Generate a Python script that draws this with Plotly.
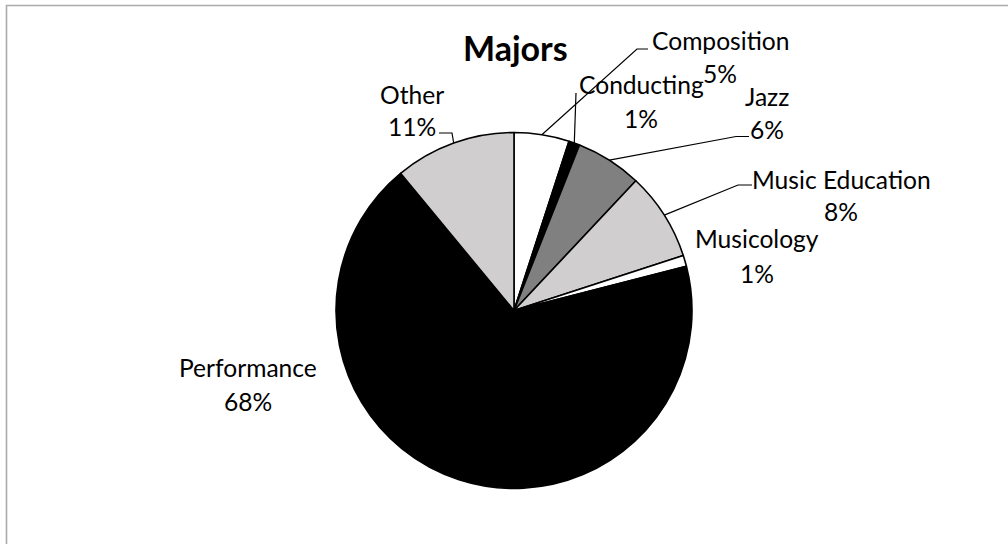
import math
import plotly.graph_objects as go

# Share of students by major (percent)
majors = ["Composition", "Conducting", "Jazz", "Music Education",
          "Musicology", "Performance", "Other"]
shares = [5, 1, 6, 8, 1, 68, 11]
slice_colors = ["#ffffff", "#000000", "#808080", "#d0cece",
                "#ffffff", "#000000", "#d0cece"]

W, H = 1008, 544
CX, CY, R = 514, 310.5, 178  # pie centre and radius in pixels

FONT = "Lato, Carlito, Calibri, sans-serif"
LABEL_SIZE = 24.6
TITLE_SIZE = 34


def px(x):
    return x / W


def py(y):
    return 1 - y / H


# label placement: centre x, name line y, percent line y (pixels)
label_pos = {
    "Composition": (720, 41, 73.5),
    "Conducting": (641, 84.5, 118),
    "Jazz": (767, 96.5, 129.5),
    "Music Education": (841, 179, 212),
    "Musicology": (757, 238, 273),
    "Performance": (248, 367.5, 401),
    "Other": (412, 94, 126),
}
# leader line bends (pixels), starting from the slice's outer arc midpoint
leader_bends = {
    "Composition": [(637, 49), (648, 49)],
    "Conducting": [(576, 93)],
    "Jazz": [(736, 136.5), (749, 136.5)],
    "Music Education": [(738, 185), (752, 185)],
    "Other": [(452, 133), (439, 133)],
}

fig = go.Figure(go.Pie(
    labels=majors,
    values=shares,
    sort=False,
    direction="clockwise",
    rotation=0,
    marker=dict(colors=slice_colors, line=dict(color="#000000", width=1.6)),
    textinfo="none",
    hoverinfo="label+percent",
    showlegend=False,
    domain=dict(x=[px(CX - R), px(CX + R)], y=[py(CY + R), py(CY - R)]),
))

total = sum(shares)
shapes = [
    # chart area border
    dict(type="rect", xref="paper", yref="paper",
         x0=px(6.5), x1=px(W + 20), y0=py(H + 20), y1=py(5.5),
         line=dict(color="#ababab", width=1.6), fillcolor="rgba(0,0,0,0)",
         layer="below"),
]
annotations = [
    dict(text="<b>Majors</b>", x=px(515), y=py(47), xref="paper", yref="paper",
         showarrow=False, xanchor="center", yanchor="middle",
         font=dict(family=FONT, size=TITLE_SIZE, color="#000000")),
]

cum = 0
for name, val in zip(majors, shares):
    mid = (cum + val / 2) / total * 2 * math.pi
    cum += val
    ax = CX + R * math.sin(mid)
    ay = CY - R * math.cos(mid)
    if name in leader_bends:
        pts = [(ax, ay)] + leader_bends[name]
        path = "M " + " L ".join(f"{px(x):.5f},{py(y):.5f}" for x, y in pts)
        shapes.append(dict(type="path", xref="paper", yref="paper", path=path,
                           line=dict(color="#000000", width=1.2)))
    lx, ny, vy = label_pos[name]
    for txt, ty in ((name, ny), (f"{val}%", vy)):
        annotations.append(dict(
            text=txt, x=px(lx), y=py(ty), xref="paper", yref="paper",
            showarrow=False, xanchor="center", yanchor="middle",
            font=dict(family=FONT, size=LABEL_SIZE, color="#000000")))

fig.update_layout(
    width=W, height=H,
    margin=dict(l=0, r=0, t=0, b=0),
    paper_bgcolor="#ffffff",
    plot_bgcolor="#ffffff",
    shapes=shapes,
    annotations=annotations,
)

fig.write_html("out.html")
